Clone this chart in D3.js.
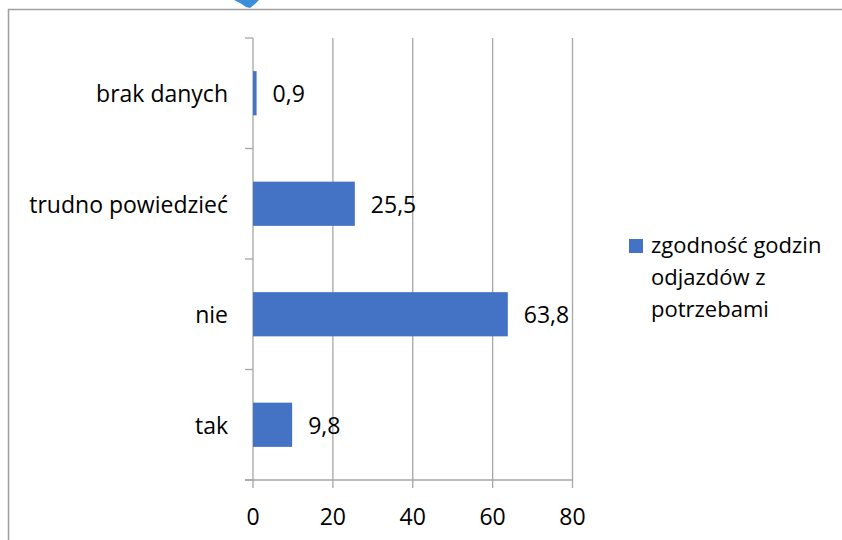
<!DOCTYPE html>
<html>
<head>
<meta charset="utf-8">
<script src="https://cdn.jsdelivr.net/npm/d3@7/dist/d3.min.js"></script>
<style>
  html, body { margin: 0; padding: 0; background: #fff; }
  svg { display: block; }
  text { font-family: "Open Sans", "Noto Sans", sans-serif; fill: #000; }
</style>
</head>
<body>
<svg id="chart" width="842" height="540"></svg>
<script>
// Odpowiedzi na pytanie o zgodność godzin odjazdów z potrzebami (%)
const categories = ["brak danych", "trudno powiedzieć", "nie", "tak"];
const values = [0.9, 25.5, 63.8, 9.8];
const xTicks = [0, 20, 40, 60, 80];
const seriesName = ["zgodność godzin", "odjazdów z", "potrzebami"];

const svg = d3.select("#chart");
const barColor = "#4472C4";
const gridColor = "#a6a6a6";
const fontSize = 23;
const legendFontSize = 22;

// outer frame of the chart area
svg.append("path")
  .attr("d", "M8.5,540 V9.5 H842")
  .attr("fill", "none")
  .attr("stroke", "#a0a0a0")
  .attr("stroke-width", 1.5);

// small blue mark peeking in above the frame
svg.append("path")
  .attr("d", "M234,0 L259,0 L255,4 L250,8 L246,7 L240,3 Z")
  .attr("fill", "#3b8fd8");

const plotTop = 38, plotBottom = 480;
const x = d3.scaleLinear().domain([0, 80]).range([253, 572.5]);
const y = d3.scaleBand().domain(categories).range([plotTop, plotBottom])
  .paddingInner(0.6).paddingOuter(0.3);

// vertical gridlines
svg.append("g").selectAll("line")
  .data(xTicks.slice(1))
  .join("line")
  .attr("x1", d => x(d)).attr("x2", d => x(d))
  .attr("y1", plotTop).attr("y2", plotBottom)
  .attr("stroke", gridColor).attr("stroke-width", 1.3);

// category axis with ticks at band boundaries
const step = y.step();
const boundaries = d3.range(categories.length + 1).map(i => plotTop + i * step);
svg.append("line")
  .attr("x1", x(0)).attr("x2", x(0))
  .attr("y1", plotTop).attr("y2", plotBottom)
  .attr("stroke", gridColor).attr("stroke-width", 1.3);
svg.append("g").selectAll("line")
  .data(boundaries)
  .join("line")
  .attr("x1", x(0) - 8).attr("x2", x(0))
  .attr("y1", d => d).attr("y2", d => d)
  .attr("stroke", gridColor).attr("stroke-width", 1.3);

// value axis
svg.append("line")
  .attr("x1", x(0) - 8).attr("x2", x(80))
  .attr("y1", plotBottom).attr("y2", plotBottom)
  .attr("stroke", gridColor).attr("stroke-width", 1.3);
svg.append("g").selectAll("line")
  .data(xTicks)
  .join("line")
  .attr("x1", d => x(d)).attr("x2", d => x(d))
  .attr("y1", plotBottom).attr("y2", plotBottom + 8)
  .attr("stroke", gridColor).attr("stroke-width", 1.3);
svg.append("g").selectAll("text")
  .data(xTicks)
  .join("text")
  .attr("x", d => x(d))
  .attr("y", 516)
  .attr("text-anchor", "middle")
  .attr("dominant-baseline", "central")
  .attr("font-size", fontSize)
  .text(d => d);

// category labels
svg.append("g").selectAll("text")
  .data(categories)
  .join("text")
  .attr("x", 228)
  .attr("y", d => y(d) + y.bandwidth() / 2)
  .attr("text-anchor", "end")
  .attr("dominant-baseline", "central")
  .attr("font-size", fontSize)
  .text(d => d);

// bars
svg.append("g").selectAll("rect")
  .data(values)
  .join("rect")
  .attr("x", x(0))
  .attr("y", (d, i) => y(categories[i]))
  .attr("width", d => x(d) - x(0))
  .attr("height", y.bandwidth())
  .attr("fill", barColor);

// value labels
const fmt = v => d3.format(".1f")(v).replace(".", ",");
svg.append("g").selectAll("text")
  .data(values)
  .join("text")
  .attr("x", d => x(d) + 16)
  .attr("y", (d, i) => y(categories[i]) + y.bandwidth() / 2)
  .attr("dominant-baseline", "central")
  .attr("font-size", fontSize)
  .text(d => fmt(d));

// legend
svg.append("rect")
  .attr("x", 629).attr("y", 239)
  .attr("width", 14).attr("height", 14)
  .attr("fill", barColor);
svg.append("g").selectAll("text")
  .data(seriesName)
  .join("text")
  .attr("x", 651)
  .attr("y", (d, i) => 253 + i * 32)
  .attr("font-size", legendFontSize)
  .text(d => d);
</script>
</body>
</html>
